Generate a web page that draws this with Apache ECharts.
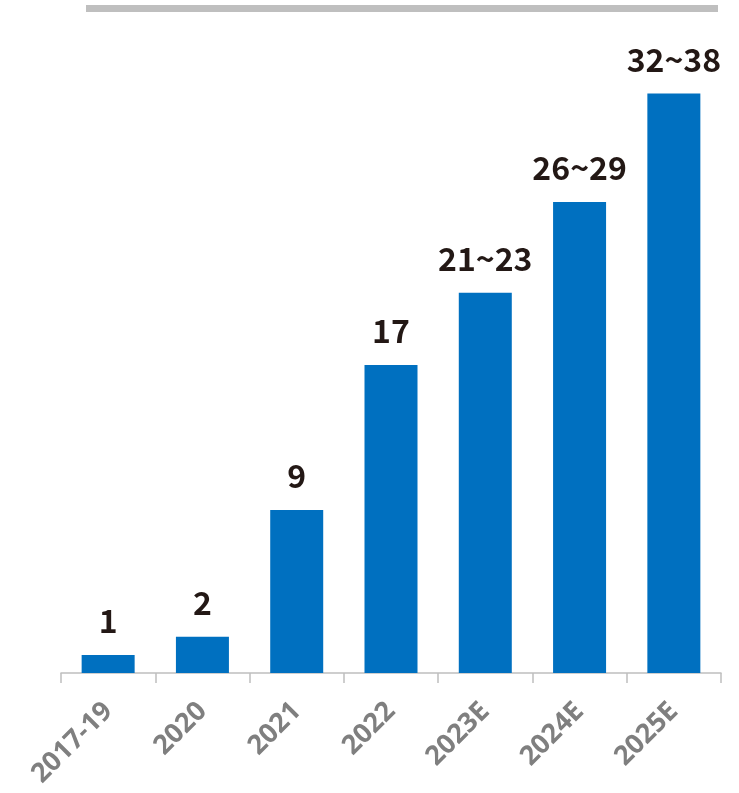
<!DOCTYPE html>
<html>
<head>
<meta charset="utf-8">
<script src="https://cdn.jsdelivr.net/npm/echarts@6/dist/echarts.min.js"></script>
<style>
  html, body { margin: 0; padding: 0; background: #ffffff; }
  #chart { width: 739px; height: 793px; }
</style>
</head>
<body>
<div id="chart"></div>
<script>
// Categories (years) along the x axis
const categories = ['2017-19', '2020', '2021', '2022', '2023E', '2024E', '2025E'];
// Bar heights (lower bound of each range)
const barValues = [1, 2, 9, 17, 21, 26, 32];
// Text written above each bar
const barLabels = ['1', '2', '9', '17', '21~23', '26~29', '32~38'];

const chart = echarts.init(document.getElementById('chart'), null, { renderer: 'canvas' });

chart.setOption({
  backgroundColor: '#ffffff',
  animation: false,
  graphic: [
    {
      type: 'rect',
      shape: { x: 86, y: 5, width: 632, height: 7 },
      style: { fill: '#bfbfbf' },
      silent: true
    }
  ],
  grid: { left: 61, right: 18, top: 21, bottom: 120, containLabel: false },
  xAxis: {
    type: 'category',
    data: categories,
    boundaryGap: true,
    axisLine: { show: true, lineStyle: { color: '#bfbfbf', width: 1.5 } },
    axisTick: { show: true, length: 10, alignWithLabel: false, lineStyle: { color: '#bfbfbf', width: 1.5 } },
    axisLabel: {
      rotate: 45,
      margin: 34,
      interval: 0,
      color: '#7f7f7f',
      fontFamily: 'Open Sans',
      fontWeight: 'bold',
      fontSize: 27
    }
  },
  yAxis: {
    type: 'value',
    min: 0,
    max: 36,
    show: false,
    splitLine: { show: false }
  },
  series: [
    {
      type: 'bar',
      data: barValues,
      barWidth: 53,
      itemStyle: { color: '#0070c0' },
      label: {
        show: true,
        position: 'top',
        distance: 18,
        color: '#231815',
        fontFamily: 'Noto Sans CJK JP',
        fontWeight: 'bold',
        fontSize: 32,
        formatter: (p) => barLabels[p.dataIndex]
      }
    }
  ]
});
</script>
</body>
</html>
